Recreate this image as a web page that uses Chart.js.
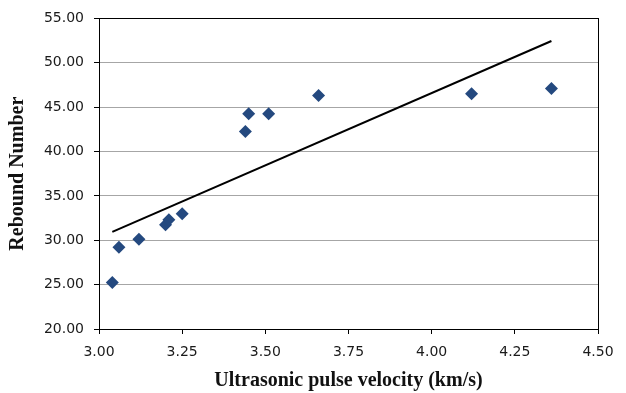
<!DOCTYPE html>
<html>
<head>
<meta charset="utf-8">
<script src="https://cdn.jsdelivr.net/npm/chart.js@4"></script>
<style>
  html, body { margin: 0; padding: 0; background: #fff; }
  #wrap { width: 626px; height: 393px; }
</style>
</head>
<body>
<div id="wrap"><canvas id="scatterChart"></canvas></div>
<script>
// Data
const velocity = [3.04, 3.06, 3.12, 3.20, 3.21, 3.25, 3.44, 3.45, 3.51, 3.66, 4.12, 4.36];
const rebound  = [25.25, 29.2, 30.1, 31.75, 32.3, 33.0, 42.25, 44.25, 44.25, 46.3, 46.5, 47.1];
// Trend line end points (as drawn in the reference)
const trendX = [3.04, 4.36];
const trendY = [30.95, 52.45];
const xTicks = [3.00, 3.25, 3.50, 3.75, 4.00, 4.25, 4.50];
const yTicks = [20, 25, 30, 35, 40, 45, 50, 55];

const frame = {
    id: 'frame',
    afterDatasetsDraw(chart) {
        const { ctx, chartArea: a } = chart;
        ctx.save();
        ctx.strokeStyle = '#000';
        ctx.lineWidth = 1;
        ctx.strokeRect(Math.round(a.left) + 0.5, Math.round(a.top) + 0.5,
            Math.round(a.right - a.left), Math.round(a.bottom - a.top));
        ctx.restore();
    }
};

document.addEventListener('DOMContentLoaded', () => {
    const points = velocity.map((v, i) => ({ x: v, y: rebound[i] }));
    const trend = trendX.map((v, i) => ({ x: v, y: trendY[i] }));

    new Chart(document.getElementById('scatterChart'), {
        type: 'scatter',
        data: {
            datasets: [{
                label: 'Trend',
                data: trend,
                showLine: true,
                borderColor: '#000',
                borderWidth: 2,
                pointRadius: 0,
                order: 2
            }, {
                label: 'Rebound Number',
                data: points,
                pointStyle: 'rectRot',
                pointRadius: 6.5,
                pointHoverRadius: 6.5,
                backgroundColor: '#24497f',
                borderColor: '#24497f',
                borderWidth: 0,
                order: 1
            }]
        },
        options: {
            responsive: true,
            maintainAspectRatio: false,
            animation: false,
            layout: { padding: { top: 16, right: 28, left: 0, bottom: 0 } },
            plugins: {
                legend: { display: false },
                tooltip: { enabled: false }
            },
            scales: {
                x: {
                    type: 'linear',
                    min: 3, max: 4.5,
                    afterBuildTicks: s => { s.ticks = xTicks.map(v => ({ value: v })); },
                    afterFit: s => { s.height = 64; },
                    grid: { drawOnChartArea: false, tickLength: 5, tickColor: '#000' },
                    border: { color: '#000', width: 1 },
                    ticks: {
                        color: '#1a1a1a',
                        font: { family: 'DejaVu Sans', size: 14 },
                        padding: 10,
                        maxRotation: 0,
                        callback: v => Number(v).toFixed(2)
                    },
                    title: {
                        display: true,
                        text: 'Ultrasonic pulse velocity (km/s)',
                        color: '#111',
                        font: { family: 'Liberation Serif', size: 20, weight: 'bold' },
                        padding: { top: 0, bottom: 0 }
                    }
                },
                y: {
                    min: 20, max: 55,
                    afterBuildTicks: s => { s.ticks = yTicks.map(v => ({ value: v })); },
                    afterFit: s => { s.width = 99; },
                    grid: { color: '#a6a6a6', lineWidth: 1, tickLength: 5, tickColor: '#000' },
                    border: { color: '#000', width: 1 },
                    ticks: {
                        color: '#1a1a1a',
                        font: { family: 'DejaVu Sans', size: 14 },
                        padding: 10,
                        callback: v => Number(v).toFixed(2)
                    },
                    title: {
                        display: true,
                        text: 'Rebound Number',
                        color: '#111',
                        font: { family: 'Liberation Serif', size: 20, weight: 'bold' },
                        padding: { top: 6, bottom: 0 }
                    }
                }
            }
        },
        plugins: [frame]
    });
});
</script>
</body>
</html>
